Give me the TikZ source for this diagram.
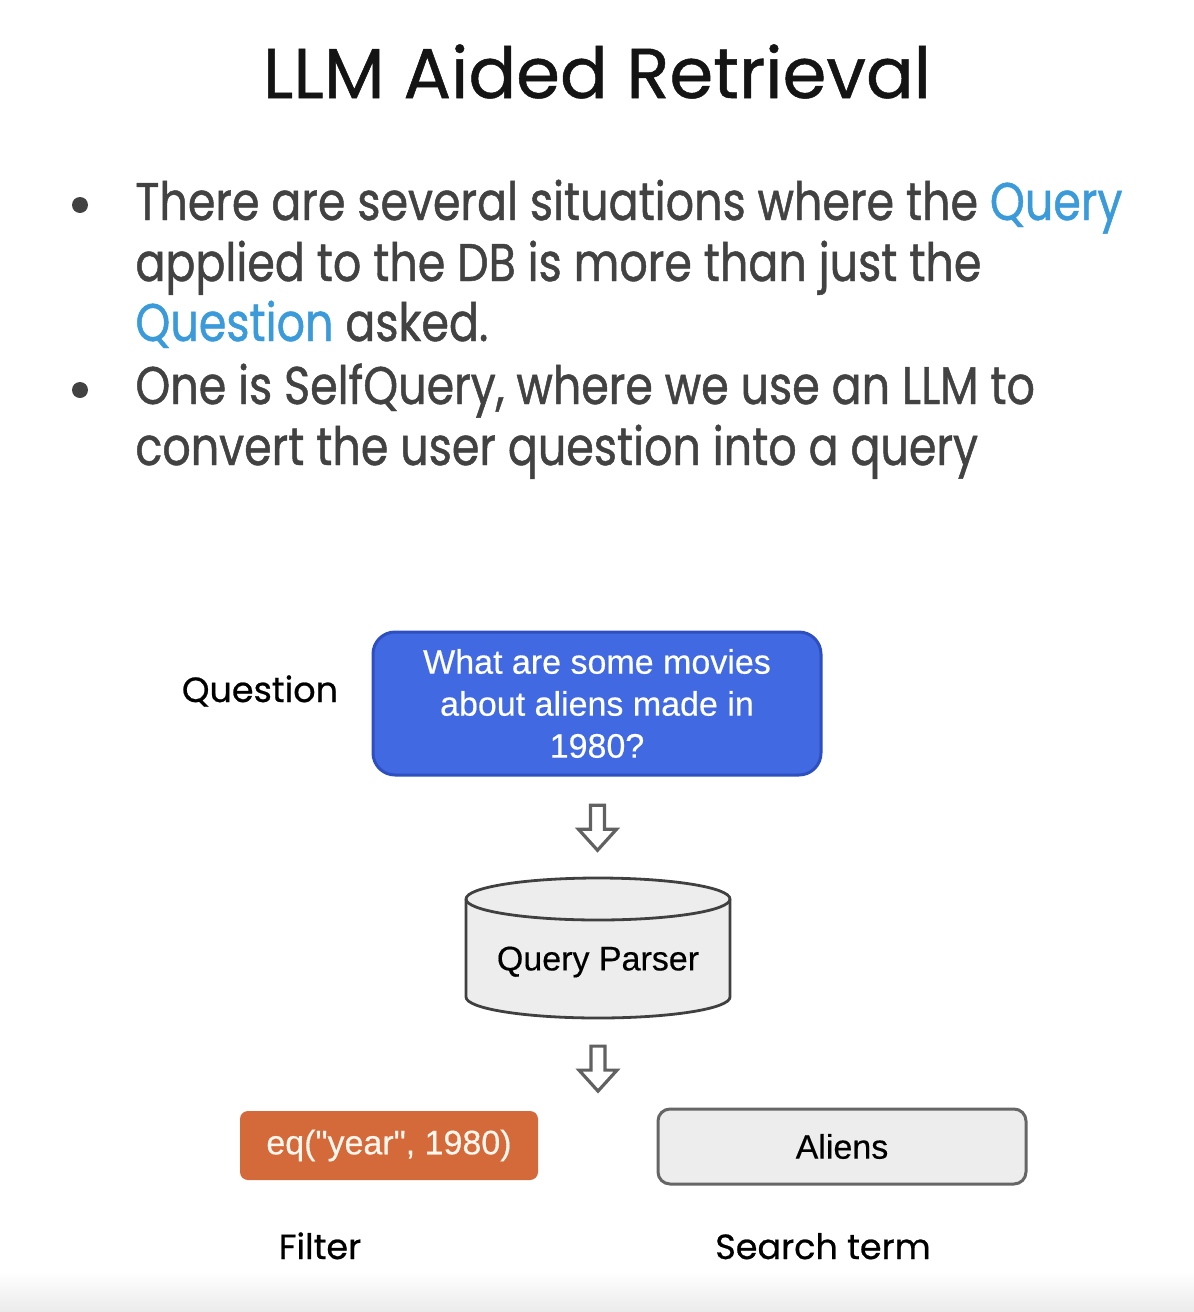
\documentclass[tikz,border=0pt]{standalone}
\usepackage{fontspec}
\setmainfont{Poppins}[FakeBold=0.7]
\newfontfamily\bodyfont{Poppins}[FakeStretch=0.838,FakeBold=0.9]
\newfontfamily\arial{Liberation Sans}[FakeBold=0.4]
\usetikzlibrary{calc}
\definecolor{txtgray}{HTML}{424242}
\definecolor{qblue}{HTML}{3B9AD9}
\definecolor{boxblue}{HTML}{4169E1}
\definecolor{boxblueline}{HTML}{2E4FC0}
\definecolor{filterorange}{HTML}{D4693A}
\definecolor{lightbox}{HTML}{EDEDED}
\newcommand{\qw}[1]{\textcolor{qblue}{#1}}
\begin{document}
\begin{tikzpicture}[x=0.5pt,y=0.5pt,
  bullettext/.style={anchor=base west,inner sep=0pt,text=txtgray,font=\bodyfont\fontsize{26.5}{30}\selectfont},
  label/.style={anchor=base,inner sep=0pt,font=\fontsize{17.5}{20}\selectfont},
  boxtext/.style={font=\arial\fontsize{17}{21}\selectfont,align=center,inner sep=0pt},
  cyl/.style={draw=black!75,line width=1.4pt,fill=lightbox},
  arrowline/.style={draw=black!62,line width=1.6pt,fill=white,line join=miter},
  downarrow/.pic={\draw[arrowline] (-7,22) -- (7,22) -- (7,-2) -- (19,-2) -- (0,-23) -- (-19,-2) -- (-7,-2) -- cycle;}]
   \useasboundingbox (0,0) rectangle (1194,-1312);
   \shade[top color=white,bottom color=black!8] (0,-1272) rectangle (1194,-1312);
   \node[anchor=base,inner sep=0pt,font=\fontsize{35.3}{40}\selectfont,text=black!92] (title) at (597,-98) {LLM Aided Retrieval};
   \foreach \i/\yy/\txt in {1/220/{There are several situations where the \qw{Query}},
                           2/281/{applied to the DB is more than just the},
                           3/341/{\qw{Question} asked.},
                           4/404/{One is SelfQuery, where we use an LLM to},
                           5/465/{convert the user question into a query}} {
    \node[bullettext] (line\i) at (135,-\yy) {\txt};
   }
   \foreach \i/\yy in {1/205,2/390} {
    \fill[txtgray] (80,-\yy) circle(8);
   }
   \node[boxtext,text=white,fill=boxblue,draw=boxblueline,line width=1.5pt,rounded corners=11pt,
     minimum width=224pt,minimum height=71.5pt] (q) at (597,-703.5)
     {What are some movies\\about aliens made in\\1980?};
   \node[label] (qlabel) at (260,-702) {Question};
   \coordinate (ptop) at (598,-878);
   \coordinate (pbot) at (598,-1018);
   \draw[cyl] (466,-899) -- (466,-997) arc[start angle=180,end angle=360,x radius=132,y radius=21]
    -- (730,-899) arc[start angle=0,end angle=180,x radius=132,y radius=21] -- cycle;
   \draw[cyl,fill=none] (466,-899) arc[start angle=180,end angle=360,x radius=132,y radius=21];
   \node[boxtext] (parser) at (598,-962) {Query Parser};
   \node[boxtext,text=white!93!orange,fill=filterorange,rounded corners=4pt,
     minimum width=149pt,minimum height=34.5pt] (filter) at (389,-1145.5) {eq("year", 1980)};
   \node[boxtext,fill=lightbox,draw=black!60,line width=1.5pt,rounded corners=6pt,
     minimum width=184pt,minimum height=37.5pt] (alien) at (842,-1146.5) {Aliens};
   \node[label] (flabel) at (320,-1259) {Filter};
   \node[label] (slabel) at (823,-1259) {Search term};
   \pic at ($(q.south)!0.5!(ptop)$) {downarrow};
   \pic at ($(pbot)!0.56!(alien.north -| pbot)$) {downarrow};
  \end{tikzpicture}
\end{document}
